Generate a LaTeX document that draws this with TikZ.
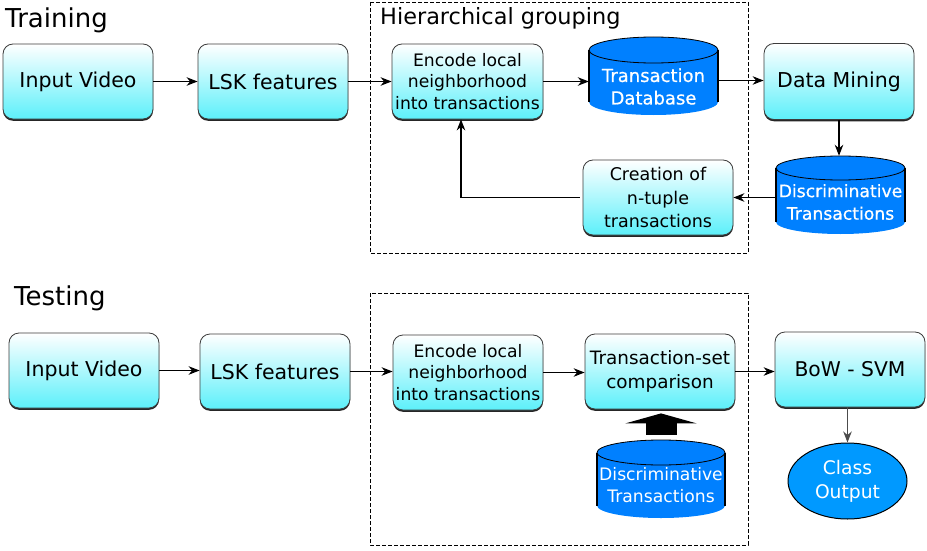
\documentclass[tikz,border=0pt]{standalone}
\usepackage{fontspec}
\setmainfont{DejaVu Sans}
\newfontfamily\heavyfont[FakeBold=0.7]{DejaVu Sans}
\usetikzlibrary{arrows.meta,shadows,calc,shapes.geometric}
\definecolor{boxbot}{RGB}{92,240,250}
\definecolor{dbblue}{RGB}{0,128,255}
\definecolor{outblue}{RGB}{0,153,255}
\definecolor{boxline}{RGB}{60,60,60}
\newcommand\setfs[2]{\fontsize{#1}{#2}\selectfont}

% database cylinder: name, centre x, half width, top centre y, bottom centre y,
% end radius, text centre y, text, font
\newcommand\drawdb[9]{%
  \fill[dbblue] ({#2-#3},#4) -- ({#2-#3},#5)
     arc[start angle=180,end angle=360,x radius=#3pt,y radius=#6pt]
     -- ({#2+#3},#4)
     arc[start angle=0,end angle=180,x radius=#3pt,y radius=#6pt] -- cycle;
  \draw[line width=0.8pt] (#2,#4) ellipse[x radius=#3pt,y radius=#6pt];
  \draw[line width=1.8pt] ({#2-#3},#4) -- ({#2-#3},#5) ({#2+#3},#4) -- ({#2+#3},#5);
  \node[inner sep=0pt, minimum width={2*#3pt}, minimum height={(#5-#4+2*#6)*1pt}]
     (#1) at (#2,{(#4+#5)/2}) {};
  \node[text=white, align=center, font=#9] (#1-t) at (#2,#7) {#8};
}

\tikzset{
  flowbox/.style={rectangle, rounded corners=10pt, draw=boxline, line width=0.8pt,
    top color=white, bottom color=boxbot, minimum width=150pt, minimum height=75pt,
    inner sep=0pt, align=center,
    general shadow={shadow yshift=-1.8pt, fill=black!85}},
  arr/.style={line width=1.3pt, -{Stealth[length=11pt,width=8.5pt,inset=3.5pt]}},
  group/.style={draw, line width=0.8pt, dash pattern=on 4pt off 2pt},
  title/.style={anchor=base west, inner sep=0pt, font=\setfs{26}{30}},
}

\begin{document}
\begin{tikzpicture}[x=1pt,y=-1pt]
\useasboundingbox (0,0) rectangle (927,551);

% ---------------- training ----------------
\node[title] (ttrain) at (5,28) {Training};
\draw[group] (370,2) rectangle (748,253);
\node[anchor=base west, inner sep=0pt, font=\setfs{22.4}{26}] (thier) at (380,25) {Hierarchical grouping};

\node[flowbox, font=\setfs{20.5}{24}] (inT) at (78,81.5) {Input Video};
\node[flowbox, font=\setfs{20.5}{24}] (lskT) at (273,81.5) {LSK features};
\node[flowbox, minimum width=151pt, font=\setfs{17.2}{21.5}] (encT) at (467.5,81.5)
  {Encode local\\neighborhood\\into transactions};
\drawdb{dbT}{653.5}{64.5}{50}{102}{13}{86.5}{Transaction\\Database}{\heavyfont\setfs{18}{22.5}}
\node[flowbox, minimum height=76pt, font=\setfs{20.5}{24}] (dmT) at (839,81.5) {Data Mining};
\drawdb{discT}{840.5}{64.5}{168}{222}{12}{202}{Discriminative\\Transactions}{\heavyfont\setfs{17.2}{22.5}}
\node[flowbox, font=\setfs{17.5}{23.5}] (creT) at (658,197.5)
  {Creation of\\n-tuple\\transactions};

\draw[arr] (inT.east) -- (inT.east -| lskT.west);
\draw[arr] (lskT.east) -- (lskT.east -| encT.west);
\draw[arr] (encT.east) -- (encT.east -| dbT.west);
\draw[arr] ([yshift=1pt]dbT.east |- dmT.west) -- ([yshift=1pt]dmT.west);
\draw[arr] (dmT.south) -- (dmT.south |- discT.north);
\draw[arr] (discT.west |- creT.east) -- (creT.east);
\draw[arr] ([xshift=-3pt]creT.west) -| ([xshift=-6.5pt]encT.south);

% ---------------- testing ----------------
\node[title] (ttest) at (14,305) {Testing};
\draw[group] (370,293) rectangle (748,545);

\node[flowbox, font=\setfs{20.5}{24}] (inS) at (84,370.5) {Input Video};
\node[flowbox, font=\setfs{20.5}{24}] (lskS) at (275,371.5) {LSK features};
\node[flowbox, font=\setfs{17.2}{21.5}] (encS) at (468,372.5)
  {Encode local\\neighborhood\\into transactions};
\node[flowbox, font=\setfs{18.4}{24}] (tsS) at (660,371.5)
  {Transaction-set\\comparison};
\node[flowbox, font=\setfs{20.3}{24}] (bowS) at (850,369.5) {BoW - SVM};
\drawdb{discS}{661}{64}{452.5}{505.5}{12.5}{485}{Discriminative\\Transactions}{\setfs{17.2}{22.5}}
\node[ellipse, draw, line width=1pt, fill=outblue, text=white, inner sep=0pt,
  minimum width=119pt, minimum height=76pt, align=center, font=\setfs{18.7}{24}]
  (cls) at (847.5,481) {Class\\Output};

\draw[arr] (inS.east) -- (inS.east -| lskS.west);
\draw[arr] (lskS.east) -- (lskS.east -| encS.west);
\draw[arr] (encS.east) -- (encS.east -| tsS.west);
\draw[arr] (tsS.east) -- (tsS.east -| bowS.west);
\draw[arr, draw=black!70] (cls.north |- bowS.south) -- (cls.north);
\draw[line width=31pt, -{Triangle[length=10pt,width=71pt]}, shorten <=5pt, shorten >=4pt]
  (discS.north) -- (discS.north |- tsS.south);
\end{tikzpicture}
\end{document}
